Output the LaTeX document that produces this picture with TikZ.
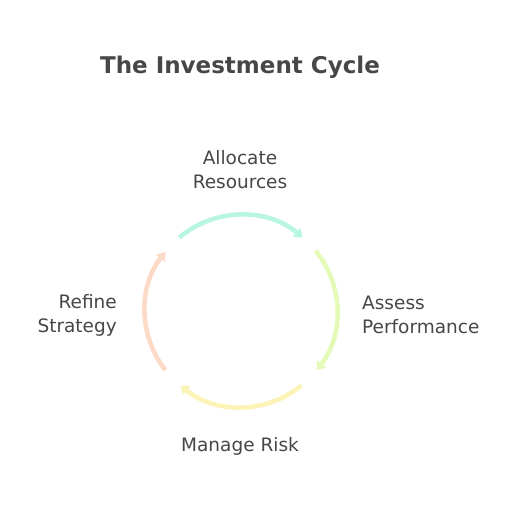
\documentclass[tikz,border=0pt]{standalone}
\usepackage{fontspec}
\setmainfont{DejaVu Sans}
\usetikzlibrary{arrows.meta,calc}
\definecolor{txt}{HTML}{474747}
\definecolor{cA}{HTML}{B8F6E0}
\definecolor{cB}{HTML}{E4FBB8}
\definecolor{cC}{HTML}{FCF3B6}
\definecolor{cD}{HTML}{FCDAC6}
\tikzset{
  lbl/.style={text=txt, font=\fontsize{18.5}{24}\selectfont, inner sep=0pt},
  cyc/.style={line width=4.5pt, -{Triangle[length=8pt,width=11pt]}},
}
\begin{document}
\begin{tikzpicture}[x=1pt,y=1pt]
\useasboundingbox[fill=white] (0,0) rectangle (516,504);
\node[text=txt, font=\fontsize{23}{24}\selectfont\bfseries, inner sep=0pt] (title) at (240,437) {The Investment Cycle};
\node[lbl, align=center] (alloc) at (240,334) {Allocate\\Resources};
\node[lbl, align=left, anchor=west] (assess) at (362,189) {Assess\\Performance};
\node[lbl, align=right, anchor=east] (refine) at (117,189) {Refine\\Strategy};
\node[lbl] (risk) at (240,58) {Manage Risk};
\coordinate (ctr) at (241,193);
\coordinate (sA) at ($(ctr)+(130:96)$);
\coordinate (sB) at ($(ctr)+(39:96)$);
\coordinate (sC) at ($(ctr)+(-51:96)$);
\coordinate (sD) at ($(ctr)+(-142:96)$);
\draw[cyc, cA] (sA) arc[start angle=130, end angle=50, radius=96];
\draw[cyc, cB] (sB) arc[start angle=39, end angle=-38, radius=96];
\draw[cyc, cC] (sC) arc[start angle=-51, end angle=-129, radius=96];
\draw[cyc, cD] (sD) arc[start angle=-142, end angle=-218, radius=96];
\end{tikzpicture}
\end{document}
